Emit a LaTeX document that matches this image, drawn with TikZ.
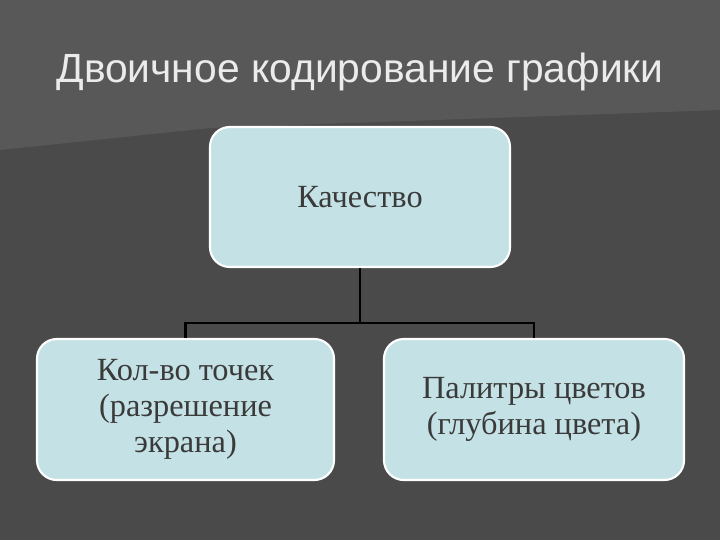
\documentclass[tikz,border=0pt]{standalone}
\usepackage{fontspec}
\setmainfont{Liberation Serif}
\newfontfamily\titlefont{Liberation Sans}
\definecolor{bg}{HTML}{4A4A4A}
\definecolor{bgl}{HTML}{585858}
\definecolor{boxfill}{HTML}{C4E2E5}
\definecolor{txt}{HTML}{3A3A3A}
\tikzset{
 qbox/.style={draw=white,line width=1.5pt,fill=boxfill,rounded corners=14pt,align=center,text=txt,font=\fontsize{23}{25.5}\selectfont},
 conn/.style={draw=black,line width=1.5pt}
}
\begin{document}
\begin{tikzpicture}[x=0.025cm,y=-0.025cm]
\fill[bg] (0,0) rectangle (720,540);
\fill[bgl] (0,0) -- (720,0) -- (720,110) -- (210,128) -- (0,150) -- cycle;
\node[text=white!92!black,font=\titlefont\fontsize{29}{32}\selectfont] (title) at (360,72) {Двоичное кодирование графики};
\node[qbox,minimum width=300*0.025cm,minimum height=140*0.025cm] (top) at (360,197) {Качество};
\node[qbox,minimum width=297*0.025cm,minimum height=141*0.025cm] (left) at (185.5,409.5) {Кол-во точек\\(разрешение\\экрана)};
\node[qbox,minimum width=300*0.025cm,minimum height=141*0.025cm] (right) at (534,409.5) {Палитры цветов\\(глубина цвета)};
\coordinate (j) at (360,323);
\draw[conn] (top.south) -- (j);
\draw[conn] (left.north) -- (left.north |- j) -- (right.north |- j) -- (right.north);
\end{tikzpicture}
\end{document}
